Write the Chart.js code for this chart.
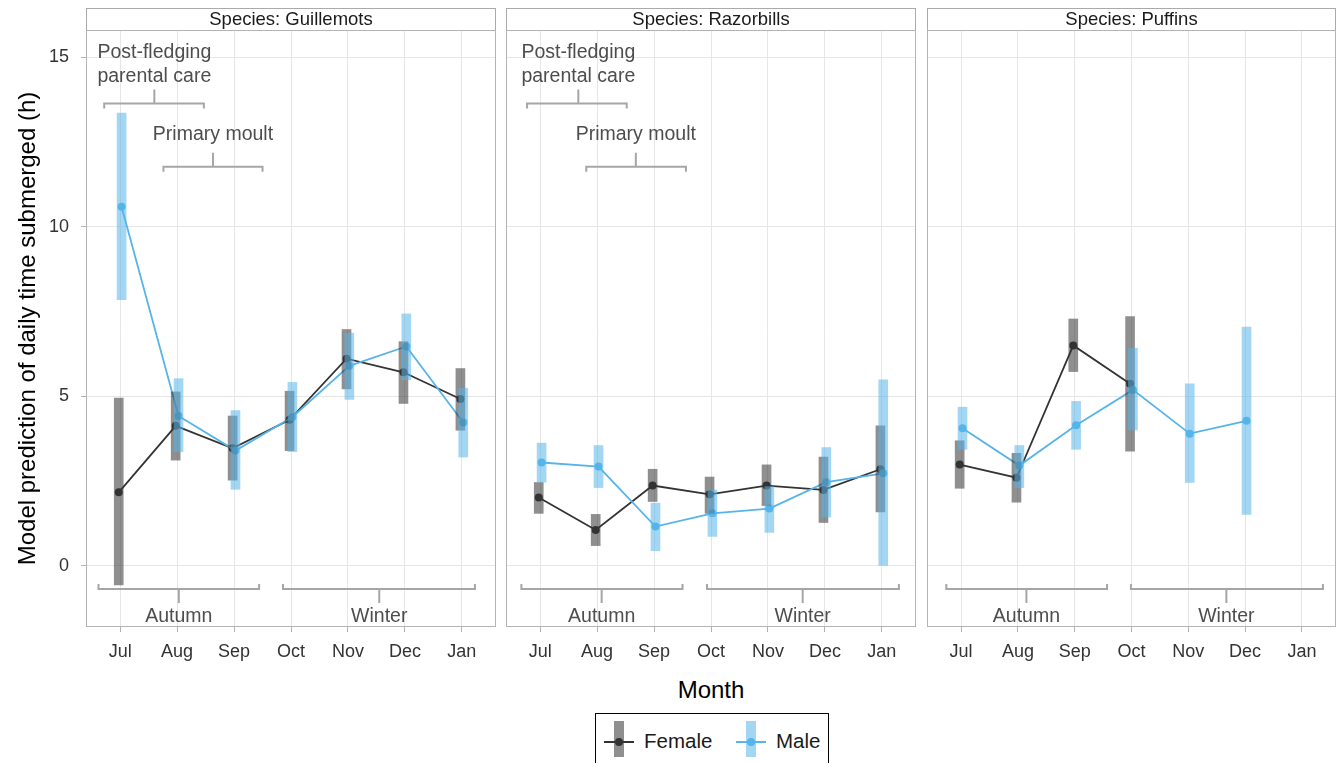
<!DOCTYPE html>
<html>
<head>
<meta charset="utf-8">
<script src="https://cdn.jsdelivr.net/npm/chart.js@4.4.0/dist/chart.umd.min.js"></script>
<style>
  body { margin: 0; background: #fff; width: 1339px; height: 763px; overflow: hidden; position: relative;
         font-family: "Liberation Sans", Arial, sans-serif; }
  .panel { position: absolute; top: 0; }
  #xtitle { position: absolute; left: 611px; width: 200px; top: 676px; text-align: center; font-size: 24px; color: #000; }
  #legend { position: absolute; left: 595px; top: 713px; width: 234px; height: 60px; border: 1.5px solid #000; box-sizing: border-box; }
  .key { position: absolute; top: 0; width: 34px; height: 50px; }
  .key .bar { position: absolute; left: 12px; top: 7px; width: 10px; height: 36px; }
  .key .ln { position: absolute; left: 2px; top: 27px; width: 30px; height: 2px; }
  .key .pt { position: absolute; left: 13px; top: 24px; width: 8px; height: 8px; border-radius: 50%; }
  .lbl { position: absolute; top: 15px; font-size: 20.5px; color: #1a1a1a; }
</style>
</head>
<body>
<!-- chart areas: 86-496, 506-916, 927-1336 (4px point overflow padding on open sides) -->
<div class="panel" style="left:0px"><canvas id="c0" width="500" height="672"></canvas></div>
<div class="panel" style="left:502px"><canvas id="c1" width="418" height="672"></canvas></div>
<div class="panel" style="left:923px"><canvas id="c2" width="417" height="672"></canvas></div>
<div id="xtitle">Month</div>
<div id="legend">
  <div class="key" style="left:6px">
    <div class="ln" style="background:#333"></div>
    <div class="pt" style="background:#333"></div>
    <div class="bar" style="background:rgba(51,51,51,0.55)"></div>
  </div>
  <div class="lbl" style="left:48px">Female</div>
  <div class="key" style="left:138px">
    <div class="ln" style="background:#56B4E9"></div>
    <div class="pt" style="background:#56B4E9"></div>
    <div class="bar" style="background:rgba(86,180,233,0.55)"></div>
  </div>
  <div class="lbl" style="left:180px">Male</div>
</div>
<script>
const months = ['Jul', 'Aug', 'Sep', 'Oct', 'Nov', 'Dec', 'Jan'];
const species = ['Guillemots', 'Razorbills', 'Puffins'];
const yTicks = [0, 5, 10, 15];

// Guillemots
const guilFemale   = [2.17, 4.13, 3.47, 4.31, 6.11, 5.71, 4.92];
const guilFemaleLo = [-0.56, 3.12, 2.53, 3.40, 5.22, 4.79, 4.00];
const guilFemaleHi = [4.95, 5.13, 4.42, 5.15, 6.97, 6.61, 5.82];
const guilMale     = [10.59, 4.42, 3.40, 4.39, 5.90, 6.47, 4.23];
const guilMaleLo   = [7.85, 3.37, 2.26, 3.37, 4.91, 5.49, 3.21];
const guilMaleHi   = [13.35, 5.52, 4.58, 5.41, 6.86, 7.43, 5.24];

// Razorbills
const razoFemale   = [2.02, 1.06, 2.37, 2.11, 2.37, 2.24, 2.85];
const razoFemaleLo = [1.55, 0.60, 1.90, 1.55, 1.78, 1.28, 1.59];
const razoFemaleHi = [2.46, 1.52, 2.85, 2.62, 2.98, 3.21, 4.13];
const razoMale     = [3.05, 2.93, 1.16, 1.55, 1.69, 2.47, 2.73];
const razoMaleLo   = [2.47, 2.31, 0.45, 0.87, 0.99, 1.44, 0.00];
const razoMaleHi   = [3.62, 3.55, 1.85, 2.24, 2.34, 3.49, 5.49];

// Puffins
const puffFemale   = [2.99, 2.60, 6.50, 5.37, null, null, null];
const puffFemaleLo = [2.29, 1.88, 5.73, 3.38, null, null, null];
const puffFemaleHi = [3.69, 3.32, 7.28, 7.35, null, null, null];
const puffMale     = [4.06, 2.96, 4.15, 5.19, 3.90, 4.28, null];
const puffMaleLo   = [3.44, 2.31, 3.44, 4.01, 2.46, 1.52, null];
const puffMaleHi   = [4.68, 3.55, 4.85, 6.42, 5.37, 7.04, null];

const seriesBySpecies = [
  { f: guilFemale, fLo: guilFemaleLo, fHi: guilFemaleHi, m: guilMale, mLo: guilMaleLo, mHi: guilMaleHi },
  { f: razoFemale, fLo: razoFemaleLo, fHi: razoFemaleHi, m: razoMale, mLo: razoMaleLo, mHi: razoMaleHi },
  { f: puffFemale, fLo: puffFemaleLo, fHi: puffFemaleHi, m: puffMale, mLo: puffMaleLo, mHi: puffMaleHi }
];

// annotation brackets, in data coordinates
const postCare = [
  { x0: -0.28, x1: 1.47, xc: 0.60, y: 13.63, above: true, lines: [['Post-fledging', 15.13], ['parental care', 14.42]] },
  { x0: -0.23, x1: 1.52, xc: 0.67, y: 13.63, above: true, lines: [['Post-fledging', 15.13], ['parental care', 14.42]] },
  null
];
const moult = [
  { x0: 0.76, x1: 2.50, xc: 1.63, y: 11.77, above: true, lines: [['Primary moult', 12.71]] },
  { x0: 0.81, x1: 2.56, xc: 1.68, y: 11.77, above: true, lines: [['Primary moult', 12.71]] },
  null
];
const autumn = [
  { x0: -0.38, x1: 2.44, xc: 1.03, y: -0.68, above: false, lines: [['Autumn', -1.5]] },
  { x0: -0.33, x1: 2.50, xc: 1.08, y: -0.68, above: false, lines: [['Autumn', -1.5]] },
  { x0: -0.26, x1: 2.57, xc: 1.15, y: -0.68, above: false, lines: [['Autumn', -1.5]] }
];
const winter = [
  { x0: 2.86, x1: 6.23, xc: 4.55, y: -0.68, above: false, lines: [['Winter', -1.5]] },
  { x0: 2.93, x1: 6.30, xc: 4.61, y: -0.68, above: false, lines: [['Winter', -1.5]] },
  { x0: 2.99, x1: 6.37, xc: 4.67, y: -0.68, above: false, lines: [['Winter', -1.5]] }
];

const FONT = '"Liberation Sans", Arial, sans-serif';
const dodge = 0.025;

const facetPlugin = {
  id: 'facet',
  beforeDraw(chart, args, opts) {
    const { ctx, chartArea: a } = chart;
    ctx.save();
    ctx.fillStyle = '#fff';
    ctx.fillRect(a.left, a.top - 22, a.right - a.left, 22);
    ctx.strokeStyle = '#aaaaaa';
    ctx.lineWidth = 1;
    ctx.strokeRect(a.left + 0.5, a.top - 22 + 0.5, a.right - a.left - 1, 22);
    ctx.fillStyle = '#1a1a1a';
    ctx.font = '18.5px ' + FONT;
    ctx.textAlign = 'center';
    ctx.textBaseline = 'middle';
    ctx.fillText('Species: ' + opts.title, (a.left + a.right) / 2, a.top - 10);
    ctx.restore();
  },
  afterDatasetsDraw(chart, args, opts) {
    const { ctx, chartArea: a, scales } = chart;
    const xs = scales.x, ys = scales.y;
    ctx.save();
    ctx.strokeStyle = '#b3b3b3';
    ctx.lineWidth = 1;
    ctx.strokeRect(a.left + 0.5, a.top + 0.5, a.right - a.left - 1, a.bottom - a.top - 1);

    opts.brackets.forEach(br => {
      if (!br) return;
      const p0 = xs.getPixelForValue(br.x0), p1 = xs.getPixelForValue(br.x1);
      const pc = xs.getPixelForValue(br.xc), py = ys.getPixelForValue(br.y);
      const s = br.above ? -1 : 1;
      ctx.strokeStyle = '#a6a6a6';
      ctx.lineWidth = 2;
      ctx.beginPath();
      ctx.moveTo(p0, py - s * 5); ctx.lineTo(p0, py); ctx.lineTo(p1, py); ctx.lineTo(p1, py - s * 5);
      ctx.moveTo(pc, py); ctx.lineTo(pc, py + s * 14);
      ctx.stroke();
      ctx.fillStyle = '#4d4d4d';
      ctx.font = '19.5px ' + FONT;
      ctx.textAlign = 'center';
      ctx.textBaseline = 'middle';
      br.lines.forEach(([t, ly]) => ctx.fillText(t, pc, ys.getPixelForValue(ly)));
    });
    ctx.restore();
  }
};

function makePanel(i) {
  const s = seriesBySpecies[i];
  const pts = (arr, off) => arr.map((v, k) => v == null ? null : { x: k + off, y: v }).filter(p => p);
  const bars = (lo, hi, off) => lo.map((v, k) => v == null ? null : { x: k + off, y: [v, hi[k]] }).filter(p => p);
  const first = i === 0;

  // lower order is drawn on top: translucent ranges sit over lines and points
  new Chart(document.getElementById('c' + i), {
    type: 'bar',
    data: {
      datasets: [
        { type: 'bar', label: 'Female', data: bars(s.fLo, s.fHi, -dodge), backgroundColor: 'rgba(51,51,51,0.55)',
          barThickness: 9, grouped: false, order: 2 },
        { type: 'bar', label: 'Male', data: bars(s.mLo, s.mHi, dodge), backgroundColor: 'rgba(86,180,233,0.55)',
          barThickness: 9, grouped: false, order: 1 },
        { type: 'line', label: 'Female', data: pts(s.f, -dodge), borderColor: '#333333', backgroundColor: '#333333',
          borderWidth: 1.8, pointRadius: 4, pointBorderWidth: 0, tension: 0, order: 4 },
        { type: 'line', label: 'Male', data: pts(s.m, dodge), borderColor: '#56B4E9', backgroundColor: '#56B4E9',
          borderWidth: 1.8, pointRadius: 4, pointBorderWidth: 0, tension: 0, order: 3 }
      ]
    },
    options: {
      responsive: false,
      animation: false,
      devicePixelRatio: 1,
      layout: { padding: { top: 30, right: 0, left: 0, bottom: 0 } },
      plugins: {
        legend: { display: false },
        tooltip: { enabled: false },
        facet: { title: species[i], brackets: [postCare[i], moult[i], autumn[i], winter[i]] }
      },
      scales: {
        x: {
          type: 'linear', min: -0.6, max: 6.6, offset: false,
          afterBuildTicks: sc => { sc.ticks = months.map((m, k) => ({ value: k })); },
          afterFit: sc => { sc.height = 45; sc.paddingLeft = 0; sc.paddingRight = 0; },
          ticks: { callback: (v) => months[v], color: '#333', font: { family: FONT, size: 18 }, padding: 9, maxRotation: 0, autoSkip: false },
          grid: { offset: false, color: '#e6e6e6', lineWidth: 1, tickLength: 5, tickColor: '#b3b3b3' },
          border: { display: false }
        },
        y: {
          type: 'linear', min: -1.8, max: 15.8,
          afterBuildTicks: sc => { sc.ticks = yTicks.map(v => ({ value: v })); },
          afterFit: sc => { sc.width = first ? 86 : 0; sc.paddingTop = 0; sc.paddingBottom = 0; },
          ticks: { display: first, color: '#333', font: { family: FONT, size: 18 }, padding: 12 },
          grid: { offset: false, color: '#e6e6e6', lineWidth: 1, tickLength: 5, tickColor: '#b3b3b3', drawTicks: first },
          border: { display: false },
          title: { display: first, text: 'Model prediction of daily time submerged (h)', color: '#000',
                   font: { family: FONT, size: 24 }, padding: { top: 14, bottom: 0 } }
        }
      }
    },
    plugins: [facetPlugin]
  });
}

species.forEach((sp, i) => makePanel(i));
</script>
</body>
</html>
